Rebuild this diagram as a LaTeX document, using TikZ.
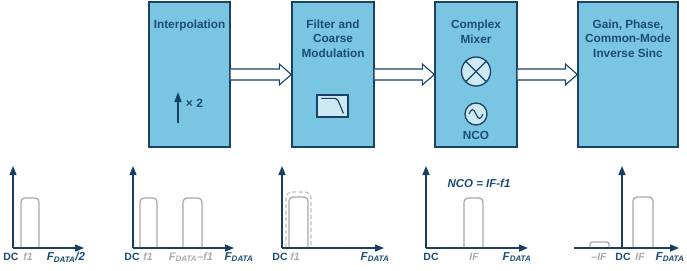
\documentclass[tikz,border=0pt]{standalone}
\usepackage{fontspec}
\setmainfont{Liberation Sans}
\usetikzlibrary{arrows.meta,calc}
\definecolor{boxfill}{RGB}{122,197,226}
\definecolor{boxdraw}{RGB}{26,66,100}
\definecolor{txtc}{RGB}{28,76,118}
\definecolor{axisc}{RGB}{24,62,100}
\definecolor{pulsec}{RGB}{168,168,168}
\definecolor{greyl}{RGB}{172,172,172}
\definecolor{iconfill}{RGB}{205,233,244}
\tikzset{
  blk/.style={draw=boxdraw, fill=boxfill, line width=1.4pt, minimum height=145pt, inner sep=0pt},
  btxt/.style={text=txtc, font=\fontsize{11.8}{14.5}\selectfont\bfseries, align=center, inner sep=0pt},
  barrow/.style={draw=boxdraw, fill=white, line width=1.1pt, line join=miter},
  axis/.style={draw=axisc, line width=1.4pt, -{Triangle[length=9pt,width=7pt]}},
  pulse/.style={draw=pulsec, line width=1.3pt, rounded corners=4pt},
  dpulse/.style={draw=pulsec!75, line width=1.2pt, rounded corners=6pt, dash pattern=on 4pt off 2.5pt},
  lbl/.style={text=txtc, font=\fontsize{10.5}{12}\selectfont\bfseries, inner sep=0pt},
  glbl/.style={text=greyl, font=\fontsize{10.5}{12}\selectfont\bfseries\itshape, inner sep=0pt},
  flbl/.style={text=txtc, font=\fontsize{11.5}{12}\selectfont\bfseries\itshape, inner sep=0pt},
}
\newcommand\hollowarrow[2]{%
  \path[barrow] let \p1=(#1.east), \p2=(#2.west) in
    (\x1,\y1+5.5pt) -- (\x2-12pt,\y1+5.5pt) -- (\x2-12pt,\y1+10.5pt) -- (\x2,\y1)
    -- (\x2-12pt,\y1-10.5pt) -- (\x2-12pt,\y1-5.5pt) -- (\x1,\y1-5.5pt);}
\newcommand\FD{F\textsubscript{\fontsize{8}{9}\selectfont DATA}}
\begin{document}
\begin{tikzpicture}[x=1pt,y=-1pt]
\useasboundingbox (0,0) rectangle (687,270);

% ---- boxes ----
\node[blk, minimum width=81pt] (b1) at (189.5,74.5) {};
\node[blk, minimum width=82pt] (b2) at (333,74.5) {};
\node[blk, minimum width=82pt] (b3) at (476,74.5) {};
\node[blk, minimum width=100pt] (b4) at (628,74.5) {};

\node[btxt] (t1) at (189.5,25) {Interpolation};
\node[btxt] (t2) at (333,38.5) {Filter and\\Coarse\\Modulation};
\node[btxt] (t3) at (476,32) {Complex\\Mixer};
\node[btxt] (t4) at (628,38.5) {Gain, Phase,\\Common-Mode\\Inverse Sinc};

% ---- block arrows ----
\hollowarrow{b1}{b2}
\hollowarrow{b2}{b3}
\hollowarrow{b3}{b4}

% ---- interpolation arrow ----
\coordinate (ia) at (178,123);
\coordinate (ib) at (178,92);
\draw[draw=axisc, line width=1.4pt, -{Triangle[length=10pt,width=7pt]}] (ia) -- (ib);
\node[btxt, font=\fontsize{12}{12}\selectfont\bfseries] (x2) at (194.5,103) {× 2};

% ---- filter icon ----
\node[draw=boxdraw, fill=iconfill, line width=1.3pt, minimum width=31pt, minimum height=22pt, inner sep=0pt] (flt) at (332.5,106) {};
\draw[draw=boxdraw, line width=1.2pt] ($(flt.north west)+(5,4)$) -- ($(flt.north west)+(19,4)$) .. controls ($(flt.north west)+(21,4)$) .. ($(flt.north west)+(27,19)$);

% ---- mixer ----
\node[draw=boxdraw, fill=iconfill, line width=1.3pt, circle, minimum size=29pt, inner sep=0pt] (mix) at (476,71.5) {};
\draw[draw=boxdraw, line width=1.3pt] (mix.north west) -- (mix.south east);
\draw[draw=boxdraw, line width=1.3pt] (mix.north east) -- (mix.south west);

% ---- NCO ----
\node[draw=boxdraw, fill=iconfill, line width=1.3pt, circle, minimum size=22pt, inner sep=0pt] (nco) at (476,114) {};
\draw[draw=boxdraw, line width=1.1pt] ($(nco.center)+(-7,0)$) sin ($(nco.center)+(-3.5,-4.5)$) cos ($(nco.center)+(0,0)$) sin ($(nco.center)+(3.5,4.5)$) cos ($(nco.center)+(7,0)$);
\node[btxt] (ncot) at (476,135) {NCO};

% ---- graph 1 ----
\coordinate (o1) at (13,248); \coordinate (y1) at (13,166); \coordinate (x1) at (84,248);
\draw[axis] (o1) -- (y1);
\draw[axis] (o1) -- (x1);
\draw[pulse] (21,247) -- (21,198) -- (39,198) -- (39,247);
\node[lbl] (l1a) at (11,257) {DC};
\node[glbl] (l1b) at (28,257) {f1};
\node[flbl] (l1c) at (66,257) {\FD/2};

% ---- graph 2 ----
\coordinate (o2) at (133,248); \coordinate (y2) at (133,166); \coordinate (x2a) at (234,248);
\draw[axis] (o2) -- (y2);
\draw[axis] (o2) -- (x2a);
\draw[pulse] (140,247) -- (140,198) -- (157,198) -- (157,247);
\draw[pulse] (183,247) -- (183,198) -- (202,198) -- (202,247);
\node[lbl] (l2a) at (132,257) {DC};
\node[glbl] (l2b) at (148,257) {f1};
\node[glbl, font=\fontsize{11}{12}\selectfont\bfseries\itshape] (l2c) at (191,257) {\FD–f1};
\node[flbl] (l2d) at (239,257) {\FD};

% ---- graph 3 ----
\coordinate (o3) at (282,248); \coordinate (y3) at (282,166); \coordinate (x3) at (384,248);
\draw[axis] (o3) -- (y3);
\draw[axis] (o3) -- (x3);
\draw[dpulse] (286,247) -- (286,192) -- (311,192) -- (311,247);
\draw[pulse] (289,247) -- (289,197) -- (308,197) -- (308,247);
\node[lbl] (l3a) at (280,257) {DC};
\node[glbl] (l3b) at (295,257) {f1};
\node[flbl] (l3c) at (375,257) {\FD};

% ---- graph 4 ----
\coordinate (o4) at (426,248); \coordinate (y4) at (426,166); \coordinate (x4) at (528,248);
\draw[axis] (o4) -- (y4);
\draw[axis] (o4) -- (x4);
\draw[pulse] (464,247) -- (464,198) -- (483,198) -- (483,247);
\node[flbl, font=\fontsize{11.5}{12}\selectfont\bfseries\itshape] (l4n) at (479,183) {NCO = IF-f1};
\node[lbl] (l4a) at (431,257) {DC};
\node[glbl] (l4b) at (474,257) {IF};
\node[flbl] (l4c) at (517,257) {\FD};

% ---- graph 5 ----
\coordinate (o5) at (622,248); \coordinate (y5) at (622,166);
\coordinate (x5l) at (574,248); \coordinate (x5r) at (679,248);
\draw[axis] (o5) -- (y5);
\draw[axis] (x5l) -- (x5r);
\draw[pulse, rounded corners=2pt] (590,247) -- (590,242) -- (609,242) -- (609,247);
\draw[pulse] (633,247) -- (633,197) -- (653,197) -- (653,247);
\node[glbl] (l5a) at (599,257) {–IF};
\node[lbl] (l5b) at (623,257) {DC};
\node[glbl] (l5c) at (640,257) {IF};
\node[flbl] (l5d) at (670,257) {\FD};
\end{tikzpicture}
\end{document}
